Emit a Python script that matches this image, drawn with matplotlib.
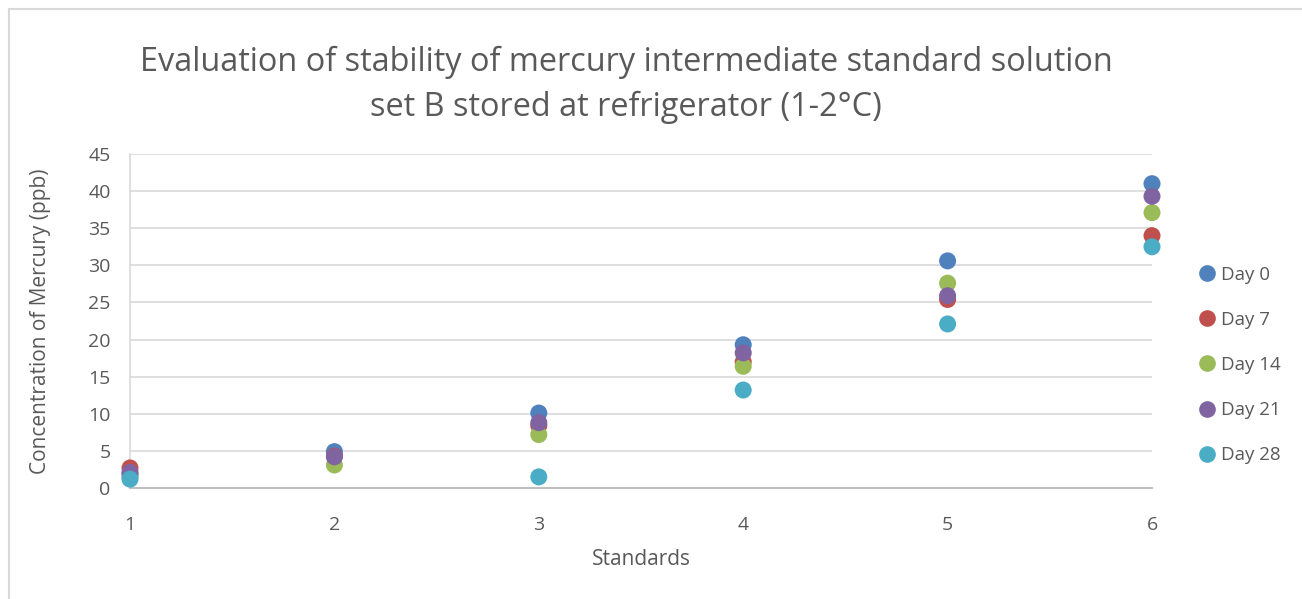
import numpy as np
import matplotlib.pyplot as plt
from matplotlib.lines import Line2D

plt.rcParams["font.family"] = ["Open Sans", "DejaVu Sans"]

standards = [1, 2, 3, 4, 5, 6]
day_0 = [1.8, 4.9, 10.1, 19.3, 30.6, 41.0]
day_7 = [2.7, 4.3, 8.4, 17.0, 25.4, 34.0]
day_14 = [1.5, 3.1, 7.2, 16.4, 27.6, 37.1]
day_21 = [2.1, 4.2, 8.8, 18.2, 25.9, 39.3]
day_28 = [1.2, np.nan, 1.5, 13.2, 22.1, 32.5]

series = [
    ("Day 0", day_0, "#4F81BD"),
    ("Day 7", day_7, "#C0504D"),
    ("Day 14", day_14, "#9BBB59"),
    ("Day 21", day_21, "#8064A2"),
    ("Day 28", day_28, "#4BACC6"),
]

text_color = "#595959"
W, H = 1302, 599

fig = plt.figure(figsize=(W / 100, H / 100), dpi=100)
ax = fig.add_axes([130 / W, 1 - 488 / H, (1152 - 130) / W, (488 - 154) / H])

for name, vals, color in series:
    ax.scatter(standards, vals, s=150, color=color, edgecolors="none",
               label=name, zorder=3, clip_on=False)

ax.set_xlim(1, 6)
ax.set_ylim(0, 45)
ax.set_yticks(range(0, 46, 5))
ax.set_xticks(standards)
ax.grid(axis="y", color="#D9D9D9", linewidth=1.2)
ax.set_axisbelow(True)
for side in ("top", "right"):
    ax.spines[side].set_visible(False)
ax.spines["left"].set_color("#D9D9D9")
ax.spines["left"].set_linewidth(1.2)
ax.spines["bottom"].set_color("#BFBFBF")
ax.spines["bottom"].set_linewidth(1.5)
ax.tick_params(length=0, labelsize=14, labelcolor=text_color)
ax.tick_params(axis="x", pad=20)
ax.tick_params(axis="y", pad=14)

ax.set_xlabel("Standards", fontsize=15, color=text_color, labelpad=11)
ax.set_ylabel("Concentration of Mercury (ppb)", fontsize=15,
              color=text_color, labelpad=27)

fig.text(626 / W, 1 - 85 / H,
         "Evaluation of stability of mercury intermediate standard solution\n"
         "set B stored at refrigerator (1-2°C)",
         ha="center", va="center", fontsize=23.4, color=text_color,
         linespacing=1.45)

handles = [Line2D([], [], marker="o", linestyle="none", markersize=12,
                  markerfacecolor=c, markeredgecolor="none")
           for _, _, c in series]
fig.legend(handles, [s[0] for s in series],
           loc="center left", bbox_to_anchor=(1185 / W, 1 - 365 / H),
           frameon=False, fontsize=13.5, labelcolor=text_color,
           handletextpad=0.0, labelspacing=1.45, handlelength=1.5,
           borderaxespad=0)

# chart area outline (left and top edges)
fig.add_artist(Line2D([9 / W, 9 / W], [0, 1 - 9 / H], color="#D9D9D9",
                      linewidth=1.5, transform=fig.transFigure))
fig.add_artist(Line2D([9 / W, 1], [1 - 9 / H, 1 - 9 / H], color="#D9D9D9",
                      linewidth=1.5, transform=fig.transFigure))

fig.savefig("out.png", dpi=100)
